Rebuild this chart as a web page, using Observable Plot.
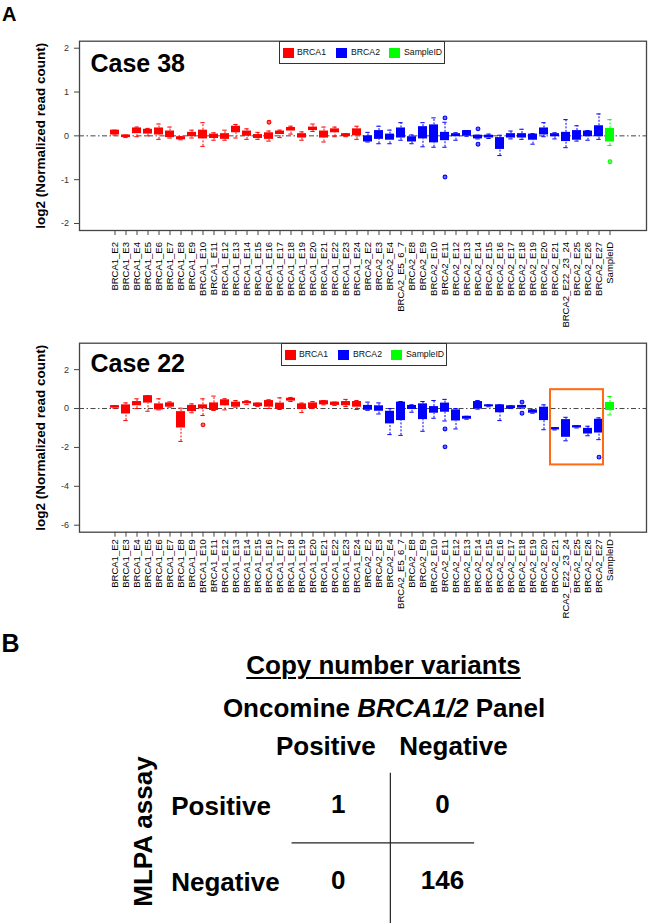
<!DOCTYPE html>
<html><head><meta charset="utf-8">
<script src="https://cdn.jsdelivr.net/npm/d3@7"></script>
<script src="https://cdn.jsdelivr.net/npm/@observablehq/plot@0.6"></script>
<style>
body{margin:0;background:#fff;}
#root{position:relative;width:650px;height:923px;overflow:hidden;background:#fff;font-family:"Liberation Sans",Arial,sans-serif;color:#000;}
.abs{position:absolute;white-space:nowrap;font-weight:bold;}
.panel{position:absolute;left:0;}
.legend{position:absolute;border:1px solid #333;background:#fff;box-sizing:border-box;width:166px;height:23.5px;}
.legend .sw{position:absolute;width:11px;height:10px;top:6px;}
.legend .lb{position:absolute;top:5.5px;font-size:8.7px;line-height:11px;color:#111;}
</style></head>
<body><div id="root"></div>
<script>
const FONT = '"Liberation Sans", Arial, sans-serif';
const exons = ["BRCA1_E2","BRCA1_E3","BRCA1_E4","BRCA1_E5","BRCA1_E6","BRCA1_E7","BRCA1_E8","BRCA1_E9","BRCA1_E10","BRCA1_E11","BRCA1_E12","BRCA1_E13","BRCA1_E14","BRCA1_E15","BRCA1_E16","BRCA1_E17","BRCA1_E18","BRCA1_E19","BRCA1_E20","BRCA1_E21","BRCA1_E22","BRCA1_E23","BRCA1_E24",
"BRCA2_E2","BRCA2_E3","BRCA2_E4","BRCA2_E5_6_7","BRCA2_E8","BRCA2_E9","BRCA2_E10","BRCA2_E11","BRCA2_E12","BRCA2_E13","BRCA2_E14","BRCA2_E15","BRCA2_E16","BRCA2_E17","BRCA2_E18","BRCA2_E19","BRCA2_E20","BRCA2_E21","BRCA2_E22_23_24","BRCA2_E25","BRCA2_E26","BRCA2_E27","SampleID"];
const genes = ["BRCA1","BRCA2","SampleID"];
const geneColors = ["#ff0000","#0000ff","#00ff00"];
const yLabel = "log2 (Normalized read count)";

// Case 38 box statistics (lower whisker, Q1, Q3, upper whisker)
const c38_q1 = [0.02,-0.04,0.05,0.04,0.02,-0.04,-0.09,-0.02,-0.07,-0.06,-0.08,0.07,-0.01,-0.06,-0.08,0.03,0.11,-0.05,0.12,-0.05,0.07,-0.02,0.0,
 -0.14,-0.08,-0.1,-0.05,-0.14,-0.07,-0.16,-0.11,-0.02,-0.01,-0.07,-0.05,-0.31,-0.05,-0.05,-0.1,0.02,-0.02,-0.13,-0.1,-0.02,-0.02,-0.14];
const c38_q3 = [0.13,0.02,0.18,0.15,0.18,0.11,-0.02,0.08,0.13,0.04,0.05,0.22,0.11,0.03,0.07,0.11,0.19,0.05,0.2,0.11,0.16,0.05,0.16,
 0.0,0.12,0.04,0.18,-0.02,0.21,0.25,0.08,0.05,0.12,0.015,0.015,-0.04,0.05,0.05,0.04,0.18,0.05,0.08,0.12,0.11,0.23,0.17];
const c38_lo = [0.02,-0.04,-0.02,0.0,-0.08,-0.05,-0.09,-0.05,-0.24,-0.1,-0.1,-0.05,-0.08,-0.08,-0.12,-0.04,0.04,-0.1,0.1,-0.14,-0.02,-0.02,-0.08,
 -0.14,-0.18,-0.18,-0.1,-0.18,-0.25,-0.26,-0.26,-0.1,-0.01,-0.07,-0.06,-0.45,-0.07,-0.08,-0.19,-0.02,-0.07,-0.27,-0.12,-0.1,-0.08,-0.22];
const c38_hi = [0.13,0.02,0.2,0.17,0.27,0.2,-0.02,0.13,0.3,0.07,0.13,0.26,0.16,0.08,0.11,0.13,0.22,0.09,0.27,0.2,0.2,0.05,0.22,
 0.08,0.22,0.13,0.3,0.02,0.3,0.41,0.31,0.07,0.12,0.015,0.04,0.015,0.11,0.15,0.05,0.3,0.07,0.37,0.23,0.12,0.5,0.37];
const c38_outExon = ["BRCA1_E16","BRCA2_E11","BRCA2_E11","BRCA2_E14","BRCA2_E14","SampleID"];
const c38_outVal = [0.31,0.41,-0.94,0.16,-0.19,-0.59];

// Case 22 box statistics
const c22_q1 = [0.02,-0.28,0.14,0.28,-0.07,0.07,-1.0,-0.16,-0.02,-0.1,0.14,0.07,0.24,0.1,0.07,-0.05,0.38,-0.05,0.0,0.19,0.16,0.14,0.07,
 -0.09,-0.14,-0.79,-0.62,-0.05,-0.57,-0.24,-0.19,-0.64,-0.55,-0.03,0.09,-0.22,0.0,0.02,-0.24,-0.62,-1.1,-1.48,-1.0,-1.31,-1.26,-0.1];
const c22_q3 = [0.15,0.19,0.36,0.66,0.24,0.29,-0.16,0.16,0.19,0.29,0.45,0.33,0.36,0.28,0.41,0.28,0.53,0.24,0.29,0.4,0.33,0.36,0.36,
 0.16,0.14,-0.14,0.33,0.16,0.24,0.1,0.28,-0.07,-0.4,0.36,0.19,0.19,0.14,0.16,-0.07,0.07,-0.98,-0.57,-0.88,-1.02,-0.55,0.31];
const c22_lo = [0.02,-0.62,0.0,-0.14,-0.07,0.07,-1.69,-0.22,-0.36,-0.1,-0.07,0.07,0.2,0.1,0.0,-0.05,0.36,-0.2,0.0,0.19,0.16,0.1,-0.05,
 -0.09,-0.28,-1.34,-1.38,-0.19,-1.17,-0.5,-0.64,-1.05,-0.55,-0.03,0.09,-0.62,0.0,0.02,-0.24,-1.09,-1.1,-1.66,-1.0,-1.4,-1.6,-0.33];
const c22_hi = [0.15,0.29,0.5,0.66,0.5,0.34,0.02,0.24,0.5,0.64,0.5,0.41,0.4,0.28,0.45,0.55,0.57,0.28,0.36,0.41,0.33,0.47,0.41,
 0.33,0.29,0.0,0.36,0.19,0.36,0.41,0.47,0.0,-0.4,0.41,0.19,0.19,0.14,0.16,-0.07,0.19,-0.98,-0.45,-0.88,-0.91,-0.48,0.62];
const c22_outExon = ["BRCA1_E10","BRCA2_E11","BRCA2_E11","BRCA2_E18","BRCA2_E18","BRCA2_E27"];
const c22_outVal = [-0.84,-1.05,-1.97,0.33,-0.24,-2.5];
const c22_highlightFrom = ["BRCA2_E21"];
const c22_highlightTo = ["BRCA2_E27"];
const c22_highlightTop = [0.97];
const c22_highlightBottom = [-2.9];

// Panel B contingency table
const oncomineCols = ["Positive","Negative"];
const mlpaRows = ["Positive","Negative"];
const cellRow = ["Positive","Positive","Negative","Negative"];
const cellCol = ["Positive","Negative","Positive","Negative"];
const cellCount = [1,0,0,146];

const geneOf = e => e.startsWith("BRCA1") ? "BRCA1" : e.startsWith("BRCA2") ? "BRCA2" : "SampleID";

function boxPanel(q1, q3, lo, hi, outExon, outVal, o) {
  const rows = exons.map((exon, i) => ({exon, gene: geneOf(exon), q1: q1[i], q3: q3[i], lo: lo[i], hi: hi[i]}));
  const outs = outExon.map((exon, i) => ({exon, gene: geneOf(exon), value: outVal[i]}));
  const marks = [
    Plot.ruleY([0], {stroke: "#444", strokeDasharray: "5,2.5,1.5,2.5"}),
    Plot.ruleX(rows, {x: "exon", y1: "lo", y2: "q1", stroke: "gene", strokeDasharray: "2,1.5"}),
    Plot.ruleX(rows, {x: "exon", y1: "q3", y2: "hi", stroke: "gene", strokeDasharray: "2,1.5"}),
    Plot.tickY(rows, {x: "exon", y: "lo", stroke: "gene", insetLeft: 2.3, insetRight: 2.3}),
    Plot.tickY(rows, {x: "exon", y: "hi", stroke: "gene", insetLeft: 2.3, insetRight: 2.3}),
    Plot.barY(rows, {x: "exon", y1: "q1", y2: "q3", fill: "gene"}),
    Plot.dot(outs, {x: "exon", y: "value", stroke: "gene", fill: "gene", fillOpacity: 0.6, r: 1.9, strokeWidth: 1.1}),
    Plot.frame({stroke: "#444", strokeWidth: 1.3}),
    Plot.axisX({tickRotate: -90, tickSize: 5, tickPadding: o.tp, fontSize: 9.5, label: null, fill: "#000", stroke: "#444"}),
    Plot.axisY({ticks: o.yticks, tickFormat: d => String(d), tickSize: 5, tickPadding: 5.5, fontSize: 9, label: null, fill: "#333", stroke: "#444"}),
    Plot.text([o.title], {frameAnchor: "top-left", dx: 11, dy: o.titleDy, lineAnchor: "bottom", textAnchor: "start", fontSize: 25, fontWeight: "bold"}),
    Plot.text([yLabel], {frameAnchor: "left", dx: -38.5, rotate: -90, textAnchor: "middle", lineAnchor: "middle", fontSize: 13.5, fontWeight: "bold"})
  ];
  if (o.highlight) marks.push(Plot.rect(o.highlight, {x1: "from", x2: "to", y1: "top", y2: "bottom", stroke: "#ff6a13", strokeWidth: 2, fill: "none"}));
  return Plot.plot({
    width: 650, height: o.height, marginTop: o.mt, marginBottom: o.mb, marginLeft: 79, marginRight: 4,
    style: {fontFamily: FONT, background: "transparent", overflow: "hidden"},
    x: {domain: exons, paddingInner: 0.16, paddingOuter: 1.94, align: 0.5},
    y: {domain: o.ydom},
    color: {domain: genes, range: geneColors},
    marks
  });
}

const root = document.getElementById("root");
function addDiv(cls, css, html) {
  const d = document.createElement("div");
  d.className = cls; d.style.cssText = css; if (html != null) d.innerHTML = html;
  root.appendChild(d); return d;
}
function addLegend(left, top) {
  const lg = addDiv("legend", `left:${left}px;top:${top}px;`);
  const swx = [3, 56, 109], lbx = [17, 71, 124];
  genes.forEach((g, i) => {
    const s = document.createElement("div"); s.className = "sw";
    s.style.left = swx[i] + "px"; s.style.background = geneColors[i]; lg.appendChild(s);
    const t = document.createElement("div"); t.className = "lb";
    t.style.left = lbx[i] + "px"; t.textContent = g; lg.appendChild(t);
  });
}

// Panel A, Case 38
const p1 = boxPanel(c38_q1, c38_q3, c38_lo, c38_hi, c38_outExon, c38_outVal,
  {height: 340, mt: 40.7, mb: 110, ydom: [-2.16, 2.16], yticks: [-2,-1,0,1,2], title: "Case 38", titleDy: 31, tp: 6.5});
const w1 = addDiv("panel", "top:0px;"); w1.appendChild(p1);
addLegend(279, 40.7);

// Panel A, Case 22 (bottom of the long labels is cropped, as in the source figure)
const hl = c22_highlightFrom.map((f, i) => ({from: f, to: c22_highlightTo[i], top: c22_highlightTop[i], bottom: c22_highlightBottom[i]}));
const p2 = boxPanel(c22_q1, c22_q3, c22_lo, c22_hi, c22_outExon, c22_outVal,
  {height: 283, mt: 7.7, mb: 86.3, ydom: [-6.36, 3.36], yticks: [-6,-4,-2,0,2], title: "Case 22", titleDy: 29, tp: 2, highlight: hl});
const w2 = addDiv("panel", "top:335px;"); w2.appendChild(p2);
addLegend(281, 342.7);

// Panel labels
addDiv("abs", "left:2px;top:3.8px;font-size:20px;line-height:20px;", "A");
addDiv("abs", "left:1.5px;top:630.5px;font-size:25px;line-height:25px;", "B");

// Panel B titles
addDiv("abs", "left:383.5px;top:652px;transform:translateX(-50%);font-size:26px;line-height:26px;text-decoration:underline;text-decoration-thickness:2px;text-underline-offset:3px;", "Copy number variants");
addDiv("abs", "left:384px;top:694.7px;transform:translateX(-50%);font-size:26px;line-height:26px;", "Oncomine <i>BRCA1/2</i> Panel");

// Panel B table
const cells = cellCount.map((n, i) => ({n, x: oncomineCols.indexOf(cellCol[i]) + 0.5, y: mlpaRows.indexOf(cellRow[i]) + 0.5}));
const rowLab = mlpaRows.map((r, i) => ({r, y: i + 0.5}));
const colLab = oncomineCols.map((c, i) => ({c, x: i + 0.5}));
const gridX = [1], gridY = [1];
const p3 = Plot.plot({
  width: 650, height: 323, marginTop: 165.65, marginBottom: 4, marginLeft: 285.55, marginRight: 155.85,
  style: {fontFamily: FONT, background: "transparent", overflow: "hidden", color: "#000"},
  x: {domain: [0, 2], axis: null},
  y: {domain: [0, 2], reverse: true, axis: null},
  marks: [
    Plot.ruleX(gridX, {x: d => d, y1: 0, y2: 2, insetTop: 7, insetBottom: -6, stroke: "#222", strokeWidth: 1.2}),
    Plot.ruleY(gridY, {y: d => d, x1: 0, x2: 2, insetLeft: 6, insetRight: 20, stroke: "#222", strokeWidth: 1.2}),
    Plot.text(cells, {x: "x", y: "y", text: d => String(d.n), fontSize: 26, fontWeight: "bold", lineAnchor: "middle"}),
    Plot.text(rowLab, {y: "y", text: "r", frameAnchor: "left", dx: -114.8, dy: 2, textAnchor: "start", lineAnchor: "middle", fontSize: 26, fontWeight: "bold"}),
    Plot.text(colLab.slice(0, 1), {x: "x", text: "c", frameAnchor: "top", dx: -12.4, dy: -11.65, lineAnchor: "bottom", fontSize: 26, fontWeight: "bold"}),
    Plot.text(colLab.slice(1), {x: "x", text: "c", frameAnchor: "top", dx: 11, dy: -11.65, lineAnchor: "bottom", fontSize: 26, fontWeight: "bold"}),
    Plot.text(["MLPA assay"], {frameAnchor: "left", dx: -142.5, dy: -11.3, rotate: -90, textAnchor: "middle", lineAnchor: "middle", fontSize: 26, fontWeight: "bold"})
  ]
});
const w3 = addDiv("panel", "top:600px;"); w3.appendChild(p3);
</script>
</body></html>
